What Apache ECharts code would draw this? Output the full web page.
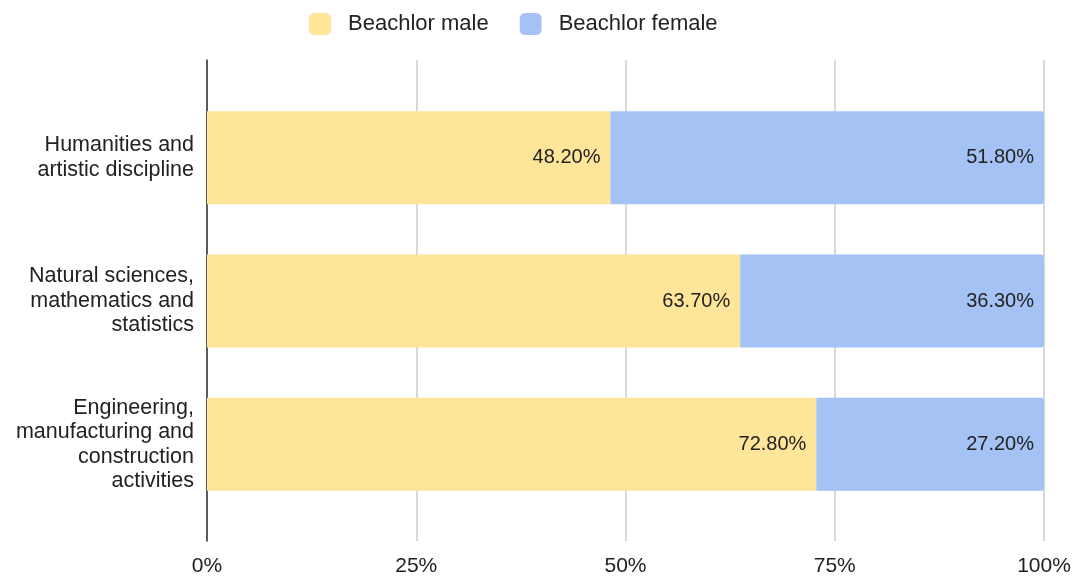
<!DOCTYPE html>
<html><head><meta charset="utf-8">
<script src="https://cdn.jsdelivr.net/npm/echarts@6/dist/echarts.min.js"></script>
<style>html,body{margin:0;padding:0;background:#fff}#c{width:1078px;height:578px}</style>
</head><body><div id="c"></div>
<script>
const categories = ["Humanities and\nartistic discipline", "Natural sciences,\nmathematics and\nstatistics", "Engineering,\nmanufacturing and\nconstruction\nactivities"];
const maleValues = [48.2, 63.7, 72.8];
const femaleValues = [51.8, 36.3, 27.2];
const seriesNames = ["Beachlor male", "Beachlor female"];
const xTicks = [0, 25, 50, 75, 100];

const FONT = '"Liberation Sans", Arial, sans-serif';
const chart = echarts.init(document.getElementById('c'));
const lbl = {
  show: true, position: 'insideRight', distance: 10, color: '#222', fontSize: 20, fontFamily: FONT,
  formatter: p => p.value.toFixed(2) + '%'
};
chart.setOption({
  animation: false,
  legend: {
    top: 8, left: 304, itemWidth: 22, itemHeight: 22, itemGap: 31,
    icon: 'roundRect',
    textStyle: { fontSize: 22, color: '#222', fontFamily: FONT, padding: [0, 0, 0, 12] },
    data: seriesNames
  },
  grid: [
    { left: 207, right: 34, top: 60, bottom: 37 },
    { left: 207, right: 34, top: 86, bottom: 62 }
  ],
  xAxis: [
    { gridIndex: 0, type: 'value', min: 0, max: 100, interval: 25,
      axisLine: { show: false }, axisTick: { show: false },
      splitLine: { lineStyle: { color: '#cccccc', width: 1.5 } },
      axisLabel: { formatter: v => xTicks.includes(v) ? v + '%' : '', fontSize: 21, color: '#222', fontFamily: FONT, margin: 15 } },
    { gridIndex: 1, type: 'value', min: 0, max: 100, show: false }
  ],
  yAxis: [
    { gridIndex: 0, type: 'category', data: [''], axisLine: { lineStyle: { color: '#333', width: 1.5 } },
      axisTick: { show: false }, axisLabel: { show: false } },
    { gridIndex: 1, type: 'category', data: categories, inverse: true,
      axisLine: { show: false }, axisTick: { show: false },
      axisLabel: { fontSize: 21.5, color: '#222', fontFamily: FONT, lineHeight: 24.5, margin: 13, align: 'right' } }
  ],
  series: [
    { name: seriesNames[0], type: 'bar', stack: 's', xAxisIndex: 1, yAxisIndex: 1, barWidth: 93,
      itemStyle: { color: '#ffe599' }, label: lbl, data: maleValues },
    { name: seriesNames[1], type: 'bar', stack: 's', xAxisIndex: 1, yAxisIndex: 1, barWidth: 93,
      itemStyle: { color: '#a4c2f4', borderRadius: [0, 3, 3, 0] }, label: lbl, data: femaleValues }
  ]
});
</script></body></html>
